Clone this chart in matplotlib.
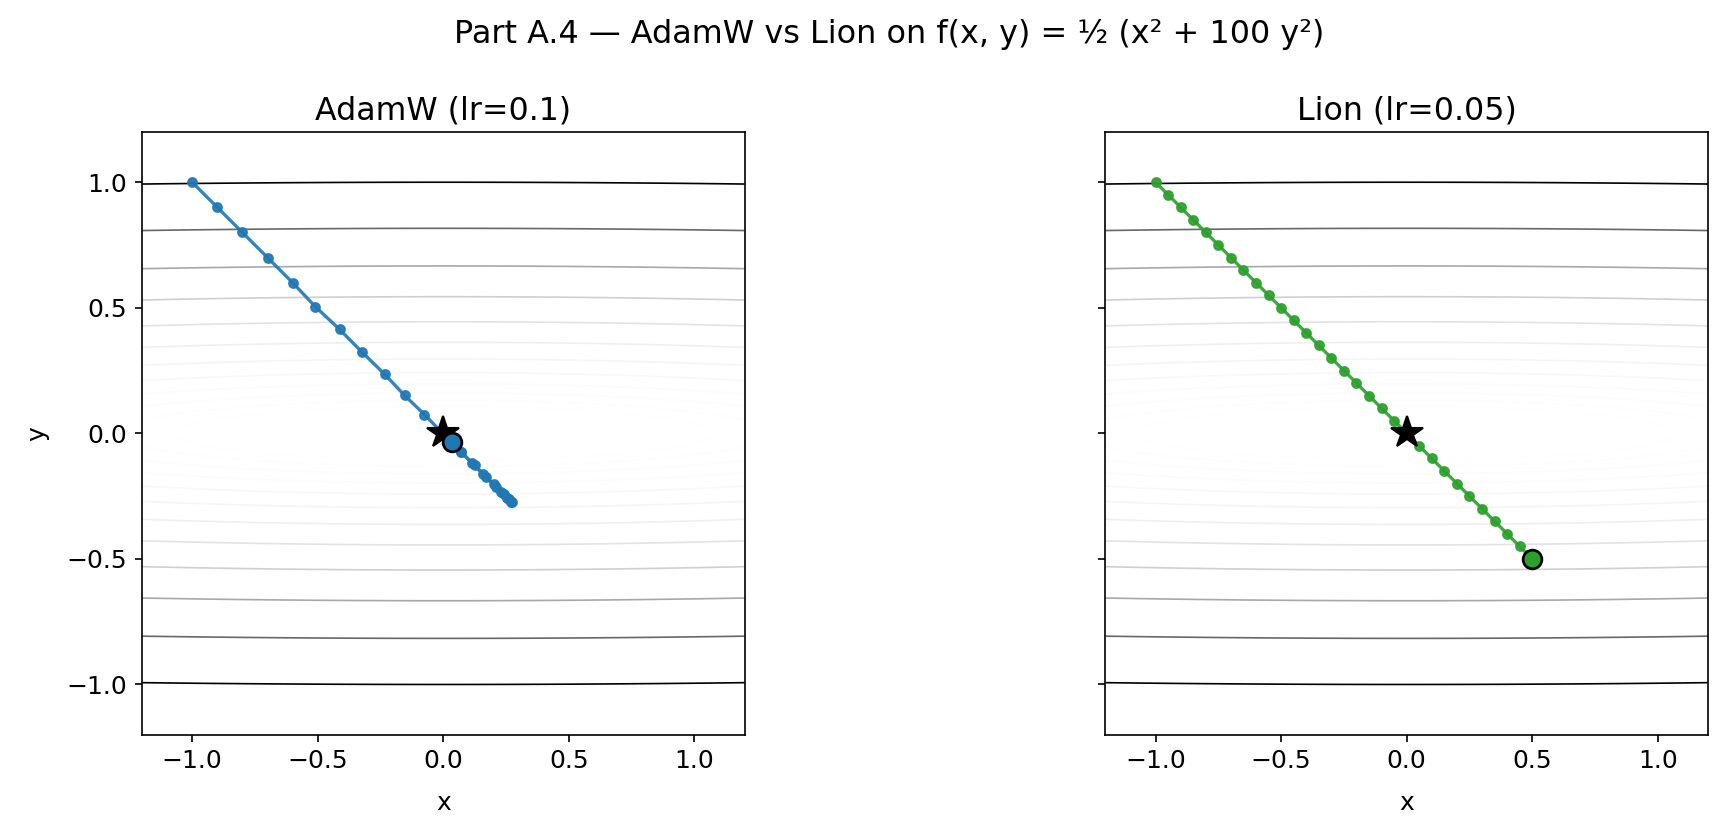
import numpy as np
import matplotlib
matplotlib.use('Agg')
import matplotlib.pyplot as plt


# AdamW trajectory (lr=0.1)
adam_x = [-1.0, -0.9, -0.8, -0.7, -0.6, -0.51, -0.413, -0.322, -0.234, -0.154,
          -0.075, 0.0, 0.07, 0.125, 0.17, 0.21, 0.24, 0.26, 0.272, 0.27,
          0.255, 0.23, 0.2, 0.16, 0.115, 0.07, 0.033]
adam_y = [1.0, 0.9, 0.8, 0.7, 0.6, 0.505, 0.414, 0.322, 0.236, 0.151,
          0.075, -0.003, -0.073, -0.128, -0.173, -0.213, -0.243, -0.263, -0.275, -0.273,
          -0.258, -0.233, -0.203, -0.163, -0.118, -0.074, -0.036]

# Lion trajectory (lr=0.05)
lion_x = [-1.0, -0.95, -0.9, -0.85, -0.8, -0.75, -0.7, -0.65, -0.6, -0.55,
          -0.5, -0.45, -0.4, -0.35, -0.3, -0.25, -0.2, -0.15, -0.1, -0.05,
          0.0, 0.05, 0.1, 0.15, 0.2, 0.25, 0.3, 0.35, 0.4, 0.45, 0.5]
lion_y = [1.0, 0.95, 0.9, 0.85, 0.8, 0.75, 0.7, 0.65, 0.6, 0.55,
          0.5, 0.45, 0.4, 0.35, 0.3, 0.25, 0.2, 0.15, 0.1, 0.05,
          0.0, -0.05, -0.1, -0.15, -0.2, -0.25, -0.3, -0.35, -0.4, -0.45, -0.5]

titles = ['AdamW (lr=0.1)', 'Lion (lr=0.05)']
colors = ['#1f77b4', '#2ca02c']

W, H, DPI = 1727, 837, 150
fig = plt.figure(figsize=(W / DPI, H / DPI), dpi=DPI)

# axes boxes in pixels (left, bottom, width, height)
ax1 = fig.add_axes([141.4 / W, (H - 734.7) / H, 603.8 / W, 602.7 / H])
ax2 = fig.add_axes([1104.8 / W, (H - 734.7) / H, 603.8 / W, 602.7 / H], sharey=ax1)

# contour background
g = np.linspace(-1.2, 1.2, 400)
X, Y = np.meshgrid(g, g)
Z = 0.5 * (X ** 2 + 100 * Y ** 2)
levels = np.logspace(-2, np.log10(50), 22)

for ax, xs, ys, title, c in zip([ax1, ax2], [adam_x, lion_x], [adam_y, lion_y],
                                titles, colors):
    ax.contour(X, Y, Z, levels=levels, cmap='Greys', linewidths=0.8)
    ax.plot(xs, ys, '-o', color=c, markersize=4.2, linewidth=1.6, alpha=0.9)
    ax.plot(0, 0, marker='*', color='black', markersize=16, linestyle='none')
    ax.plot(xs[-1], ys[-1], marker='o', color=c, markersize=9,
            markeredgecolor='black', markeredgewidth=1.3, linestyle='none')
    ax.set_xlim(-1.2, 1.2)
    ax.set_ylim(-1.2, 1.2)
    ax.set_aspect('equal')
    ax.set_xticks([-1.0, -0.5, 0.0, 0.5, 1.0])
    ax.set_yticks([-1.0, -0.5, 0.0, 0.5, 1.0])
    ax.tick_params(labelsize=12)
    ax.set_title(title, fontsize=15.2)
    ax.set_xlabel('x', fontsize=12, labelpad=8.5)

ax1.set_ylabel('y', fontsize=12, labelpad=8.5)
ax2.tick_params(labelleft=False)

fig.suptitle('Part A.4 \u2014 AdamW vs Lion on f(x, y) = \u00bd (x\u00b2 + 100 y\u00b2)',
             x=889 / W, y=1 - 35 / H, va='center', fontsize=15.3)

plt.savefig('out.png', dpi=DPI)
